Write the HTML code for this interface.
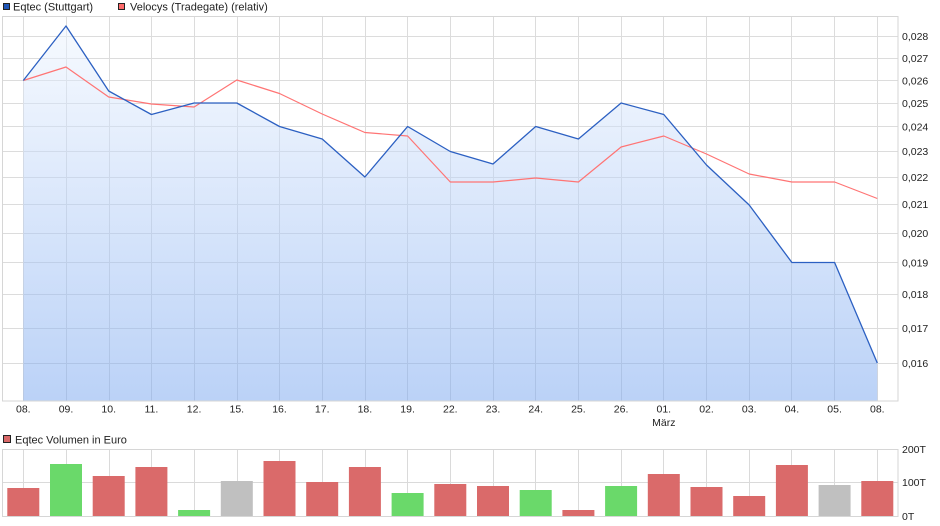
<!DOCTYPE html>
<html><head><meta charset="utf-8"><style>
html,body{margin:0;padding:0;background:#fff;}
svg{display:block;}
text{font-family:"Liberation Sans",Arial,sans-serif;fill:#222;}
</style></head><body>
<svg width="940" height="526" viewBox="0 0 940 526" xmlns="http://www.w3.org/2000/svg">
<defs>
<linearGradient id="fg" x1="0" y1="16" x2="0" y2="401" gradientUnits="userSpaceOnUse">
<stop offset="0" stop-color="#f1f7ff"/>
<stop offset="1" stop-color="#77a5ef"/>
</linearGradient>
</defs>
<!-- legend top -->
<rect x="3.5" y="3.5" width="6" height="6" fill="#1f56b8" stroke="#222" stroke-width="1"/>
<text x="13" y="10.5" font-size="11">Eqtec (Stuttgart)</text>
<rect x="118.5" y="3.5" width="6" height="6" fill="#ff6b6b" stroke="#222" stroke-width="1"/>
<text x="130" y="10.5" font-size="11">Velocys (Tradegate) (relativ)</text>

<!-- main grid -->
<g stroke="#dcdcdc" stroke-width="1" fill="none">
<path d="M2.5 36.5H898M2.5 58.5H898M2.5 80.5H898M2.5 103.5H898M2.5 126.5H898M2.5 151.5H898M2.5 177.5H898M2.5 204.5H898M2.5 233.5H898M2.5 262.5H898M2.5 294.5H898M2.5 328.5H898M2.5 363.5H898"/>
<path d="M23.5 16V401M66.5 16V401M109.5 16V401M151.5 16V401M194.5 16V401M237.5 16V401M279.5 16V401M322.5 16V401M365.5 16V401M407.5 16V401M450.5 16V401M493.5 16V401M535.5 16V401M578.5 16V401M621.5 16V401M663.5 16V401M706.5 16V401M749.5 16V401M791.5 16V401M834.5 16V401M877.5 16V401"/>
</g>

<!-- main fill -->
<polygon fill="url(#fg)" fill-opacity="0.5" points="23.3,401 23.3,80.5 66,26 108.7,91 151.4,114.5 194.1,103 236.8,103 279.5,126.5 322.2,139 364.9,177 407.6,126.5 450.3,151.5 493,164 535.7,126.5 578.4,139 621.1,103 663.8,114.5 706.5,165 749.2,205 791.9,262.5 834.6,262.5 877.3,363 877.3,401"/>

<rect x="2.5" y="16.5" width="895.5" height="384.5" fill="none" stroke="#d6d6d6" stroke-width="1"/>

<!-- series -->
<polyline fill="none" stroke="#ff7474" stroke-width="1.2" stroke-linejoin="round" points="23.3,80.5 66,67 108.7,97 151.4,104 194.1,107 236.8,80 279.5,93.5 322.2,114 364.9,132.5 407.6,136 450.3,182 493,182 535.7,178 578.4,182 621.1,147 663.8,136 706.5,154 749.2,174 791.9,182 834.6,182 877.3,198.5"/>
<polyline fill="none" stroke="#2c60c2" stroke-width="1.3" stroke-linejoin="round" points="23.3,80.5 66,26 108.7,91 151.4,114.5 194.1,103 236.8,103 279.5,126.5 322.2,139 364.9,177 407.6,126.5 450.3,151.5 493,164 535.7,126.5 578.4,139 621.1,103 663.8,114.5 706.5,165 749.2,205 791.9,262.5 834.6,262.5 877.3,363"/>

<!-- y labels -->
<g font-size="10.5">
<text x="902" y="40">0,028</text>
<text x="902" y="62">0,027</text>
<text x="902" y="84.5">0,026</text>
<text x="902" y="107">0,025</text>
<text x="902" y="130.5">0,024</text>
<text x="902" y="155">0,023</text>
<text x="902" y="181">0,022</text>
<text x="902" y="208">0,021</text>
<text x="902" y="237">0,020</text>
<text x="902" y="266.5">0,019</text>
<text x="902" y="298">0,018</text>
<text x="902" y="332">0,017</text>
<text x="902" y="367">0,016</text>
</g>

<!-- x labels -->
<g font-size="10.5" text-anchor="middle">
<text x="23.3" y="412.5">08.</text>
<text x="66" y="412.5">09.</text>
<text x="108.7" y="412.5">10.</text>
<text x="151.4" y="412.5">11.</text>
<text x="194.1" y="412.5">12.</text>
<text x="236.8" y="412.5">15.</text>
<text x="279.5" y="412.5">16.</text>
<text x="322.2" y="412.5">17.</text>
<text x="364.9" y="412.5">18.</text>
<text x="407.6" y="412.5">19.</text>
<text x="450.3" y="412.5">22.</text>
<text x="493" y="412.5">23.</text>
<text x="535.7" y="412.5">24.</text>
<text x="578.4" y="412.5">25.</text>
<text x="621.1" y="412.5">26.</text>
<text x="663.8" y="412.5">01.</text>
<text x="706.5" y="412.5">02.</text>
<text x="749.2" y="412.5">03.</text>
<text x="791.9" y="412.5">04.</text>
<text x="834.6" y="412.5">05.</text>
<text x="877.3" y="412.5">08.</text>
<text x="663.8" y="426">März</text>
</g>

<!-- volume legend -->
<rect x="3.5" y="435.5" width="7" height="7" fill="#d96868" stroke="#222" stroke-width="1"/>
<text x="15" y="443.5" font-size="11">Eqtec Volumen in Euro</text>

<!-- volume grid -->
<g stroke="#dadada" stroke-width="1" fill="none">
<path d="M2.5 482.5H898"/>
<path d="M23.5 449V516M66.5 449V516M109.5 449V516M151.5 449V516M194.5 449V516M237.5 449V516M279.5 449V516M322.5 449V516M365.5 449V516M407.5 449V516M450.5 449V516M493.5 449V516M535.5 449V516M578.5 449V516M621.5 449V516M663.5 449V516M706.5 449V516M749.5 449V516M791.5 449V516M834.5 449V516M877.5 449V516"/>
</g>
<rect x="2.5" y="449.5" width="895.5" height="67" fill="none" stroke="#d6d6d6" stroke-width="1"/>

<!-- volume bars -->
<g>
<rect x="7.3" y="488" width="32" height="28" fill="#da6a6a"/>
<rect x="50" y="464" width="32" height="52" fill="#6ad96a"/>
<rect x="92.7" y="476" width="32" height="40" fill="#da6a6a"/>
<rect x="135.4" y="467" width="32" height="49" fill="#da6a6a"/>
<rect x="178.1" y="510" width="32" height="6" fill="#6ad96a"/>
<rect x="220.8" y="481" width="32" height="35" fill="#c0c0c0"/>
<rect x="263.5" y="461" width="32" height="55" fill="#da6a6a"/>
<rect x="306.2" y="482" width="32" height="34" fill="#da6a6a"/>
<rect x="348.9" y="467" width="32" height="49" fill="#da6a6a"/>
<rect x="391.6" y="493" width="32" height="23" fill="#6ad96a"/>
<rect x="434.3" y="484" width="32" height="32" fill="#da6a6a"/>
<rect x="477" y="486" width="32" height="30" fill="#da6a6a"/>
<rect x="519.7" y="490" width="32" height="26" fill="#6ad96a"/>
<rect x="562.4" y="510" width="32" height="6" fill="#da6a6a"/>
<rect x="605.1" y="486" width="32" height="30" fill="#6ad96a"/>
<rect x="647.8" y="474" width="32" height="42" fill="#da6a6a"/>
<rect x="690.5" y="487" width="32" height="29" fill="#da6a6a"/>
<rect x="733.2" y="496" width="32" height="20" fill="#da6a6a"/>
<rect x="775.9" y="465" width="32" height="51" fill="#da6a6a"/>
<rect x="818.6" y="485" width="32" height="31" fill="#c0c0c0"/>
<rect x="861.3" y="481" width="32" height="35" fill="#da6a6a"/>
</g>

<!-- volume y labels -->
<g font-size="10.5">
<text x="902" y="453">200T</text>
<text x="902" y="486">100T</text>
<text x="902" y="520">0T</text>
</g>
</svg>
</body></html>
